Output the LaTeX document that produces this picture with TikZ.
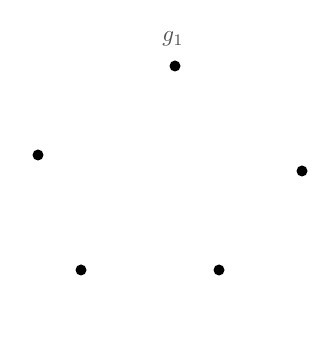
\documentclass[tikz,border=0pt]{standalone}
\begin{document}
\begin{tikzpicture}[x=1pt,y=1pt,
  vert/.style={circle,fill=black,inner sep=0pt,minimum size=11pt},
  lbl/.style={text=black!68,scale=2.3}]
\useasboundingbox (0,0) rectangle (333,342);
\node[vert] (v1) at (175,276) {};
\node[vert] (v2) at (38,187) {};
\node[vert] (v3) at (302,171) {};
\node[vert] (v4) at (81,72) {};
\node[vert] (v5) at (219,72) {};
\node[lbl] (l1) at (173,303) {$g_1$};
\end{tikzpicture}
\end{document}
